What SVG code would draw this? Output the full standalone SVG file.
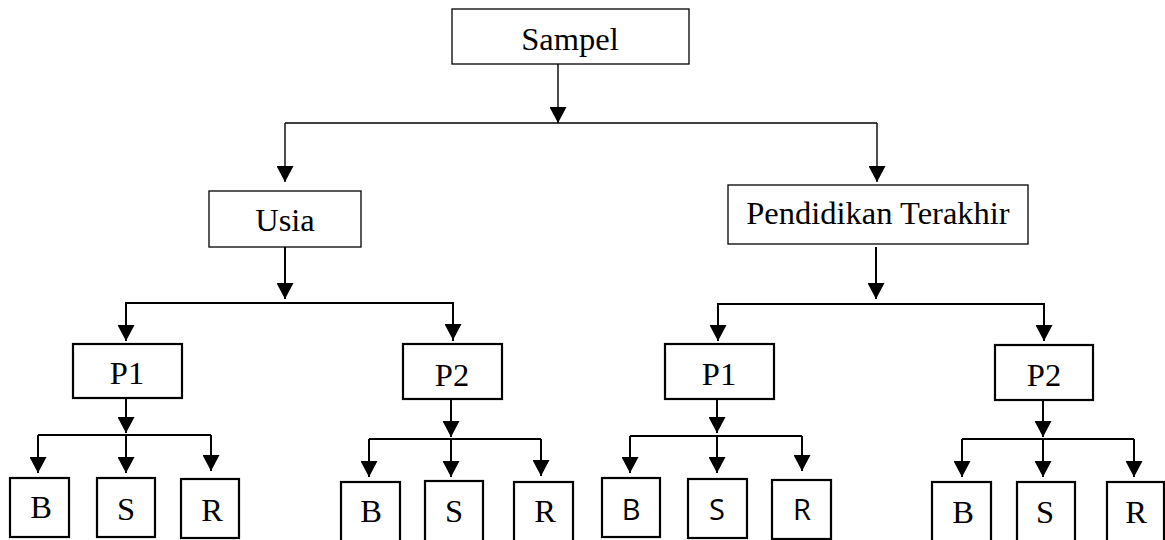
<svg xmlns="http://www.w3.org/2000/svg" width="1165" height="540" viewBox="0 0 1165 540">
<style>
.thin{fill:#fff;stroke:#000;stroke-width:1.3}
.thick{fill:#fff;stroke:#000;stroke-width:2.2}
.t{font-family:"Liberation Serif","Times New Roman",serif;font-size:32.5px;fill:#000;text-anchor:middle}
.s{font-family:"Open Sans","Liberation Sans",sans-serif;font-size:29px;fill:#000;text-anchor:middle}
.c{fill:none;stroke:#000;stroke-width:1.4}
.c2{fill:none;stroke:#000;stroke-width:2}
.a{marker-end:url(#ah)}
</style>
<defs>
<marker id="ah" markerUnits="userSpaceOnUse" markerWidth="17" markerHeight="17" refX="16" refY="8.5" orient="auto" viewBox="0 0 16 17">
<path d="M0,0 L16,8.5 L0,17 z" fill="#000"/>
</marker>
</defs>
<rect width="1165" height="540" fill="#fff"/>
<g id="connectors">
<line class="c a" x1="558" y1="64" x2="558" y2="123"/>
<line class="c" x1="285" y1="123" x2="877" y2="123"/>
<line class="c a" x1="285" y1="123" x2="285" y2="182"/>
<line class="c a" x1="877" y1="123" x2="877" y2="182"/>
<line class="c2 a" x1="285" y1="247" x2="285" y2="299"/>
<polyline class="c2" points="126,341 126,303 453,303 453,341"/>
<line class="c2 a" x1="126" y1="303" x2="126" y2="341"/>
<line class="c2 a" x1="453" y1="303" x2="453" y2="340"/>
<line class="c2 a" x1="876" y1="247" x2="876" y2="299"/>
<polyline class="c2" points="718,341 718,304 1044,304 1044,341"/>
<line class="c2 a" x1="718" y1="304" x2="718" y2="341"/>
<line class="c2 a" x1="1044" y1="304" x2="1044" y2="341"/>
<line class="c2 a" x1="126" y1="398" x2="126" y2="433"/>
<polyline class="c2" points="38,435 211,435"/>
<line class="c2 a" x1="38" y1="435" x2="38" y2="473"/>
<line class="c2 a" x1="126" y1="435" x2="126" y2="473"/>
<line class="c2 a" x1="211" y1="435" x2="211" y2="471"/>
<line class="c2 a" x1="451" y1="399" x2="451" y2="437"/>
<polyline class="c2" points="369,439 541,439"/>
<line class="c2 a" x1="369" y1="439" x2="369" y2="477"/>
<line class="c2 a" x1="451" y1="439" x2="451" y2="477"/>
<line class="c2 a" x1="541" y1="439" x2="541" y2="476"/>
<line class="c2 a" x1="717" y1="399" x2="717" y2="433"/>
<polyline class="c2" points="630,436 802,436"/>
<line class="c2 a" x1="630" y1="436" x2="630" y2="473"/>
<line class="c2 a" x1="717" y1="436" x2="717" y2="473"/>
<line class="c2 a" x1="802" y1="436" x2="802" y2="471"/>
<line class="c2 a" x1="1043" y1="400" x2="1043" y2="437"/>
<polyline class="c2" points="962,439 1134,439"/>
<line class="c2 a" x1="962" y1="439" x2="962" y2="477"/>
<line class="c2 a" x1="1043" y1="439" x2="1043" y2="477"/>
<line class="c2 a" x1="1134" y1="439" x2="1134" y2="477"/>
</g>
<g id="sampel"><rect class="thin" x="452" y="9" width="237" height="55"/><text class="t" x="570" y="50">Sampel</text></g>
<g id="usia"><rect class="thin" x="209" y="191" width="152" height="56"/><text class="t" x="285" y="231">Usia</text></g>
<g id="pendidikan"><rect class="thin" x="728" y="185" width="300" height="59"/><text class="t" x="878" y="224">Pendidikan Terakhir</text></g>
<g id="usia-p1"><rect class="thick" x="73" y="344" width="109" height="54"/><text class="t" x="127" y="384">P1</text></g>
<g id="usia-p2"><rect class="thick" x="403" y="344" width="99" height="55"/><text class="t" x="452" y="386">P2</text></g>
<g id="pend-p1"><rect class="thick" x="665" y="344" width="109" height="55"/><text class="t" x="719" y="385">P1</text></g>
<g id="pend-p2"><rect class="thick" x="995" y="345" width="98" height="55"/><text class="t" x="1044" y="386">P2</text></g>
<g id="usia-p1-b"><rect class="thick" x="10" y="478" width="59" height="59"/><text class="t" x="41" y="518">B</text></g>
<g id="usia-p1-s"><rect class="thick" x="97" y="478" width="58" height="59"/><text class="t" x="126" y="520">S</text></g>
<g id="usia-p1-r"><rect class="thick" x="181" y="479" width="58" height="59"/><text class="t" x="212" y="521">R</text></g>
<g id="usia-p2-b"><rect class="thick" x="341" y="482" width="59" height="62"/><text class="t" x="371" y="522">B</text></g>
<g id="usia-p2-s"><rect class="thick" x="425" y="481" width="58" height="62"/><text class="t" x="454" y="522">S</text></g>
<g id="usia-p2-r"><rect class="thick" x="514" y="482" width="59" height="62"/><text class="t" x="545" y="522">R</text></g>
<g id="pend-p1-b"><rect class="thick" x="602" y="478" width="58" height="59"/><text class="s" x="631" y="520">B</text></g>
<g id="pend-p1-s"><rect class="thick" x="688" y="479" width="59" height="59"/><text class="s" x="717" y="520">S</text></g>
<g id="pend-p1-r"><rect class="thick" x="772" y="480" width="59" height="59"/><text class="s" x="802" y="520">R</text></g>
<g id="pend-p2-b"><rect class="thick" x="932" y="482" width="59" height="62"/><text class="t" x="963" y="523">B</text></g>
<g id="pend-p2-s"><rect class="thick" x="1017" y="482" width="58" height="62"/><text class="t" x="1045" y="523">S</text></g>
<g id="pend-p2-r"><rect class="thick" x="1107" y="482" width="57" height="62"/><text class="t" x="1136" y="523">R</text></g>
</svg>
